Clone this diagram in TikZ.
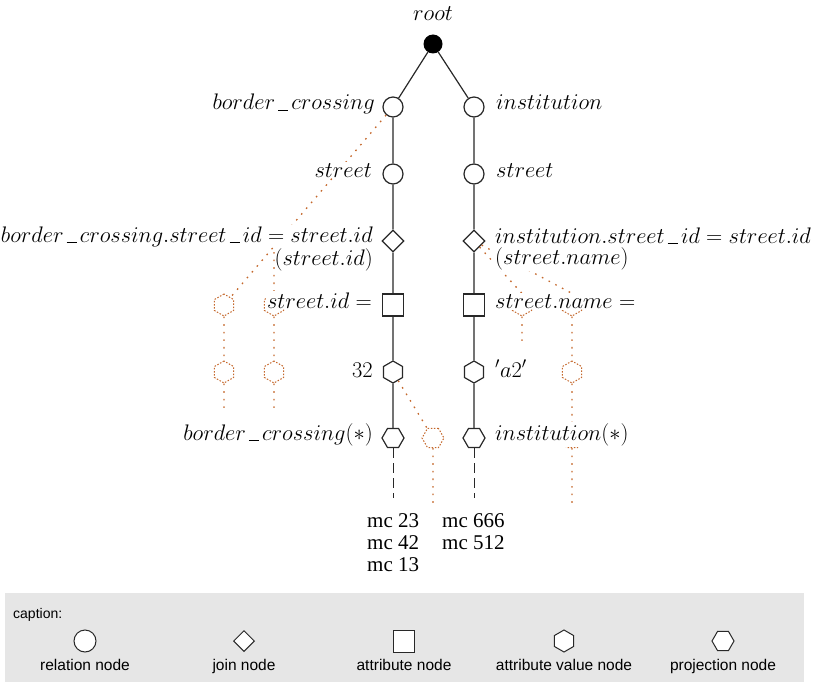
\RequirePackage{fix-cm}
\documentclass[tikz,border=0pt]{standalone}
\usepackage{fontspec}
\newfontfamily\capfont{Liberation Sans}
\newfontfamily\mcfont{Liberation Serif}
\usetikzlibrary{shapes.geometric}
\definecolor{orng}{RGB}{196,104,44}
\definecolor{capgray}{RGB}{230,230,230}
\definecolor{lnc}{RGB}{40,40,40}
\newcommand{\usc}{\mbox{\kern0.13em\rule[-0.03em]{0.46em}{0.045em}\kern0.13em}}
\begin{document}
\begin{tikzpicture}[x=1pt,y=-1pt,
  lab/.style={font=\fontsize{22.5}{26}\selectfont, inner sep=1pt},
  wlab/.style={lab, fill=white},
  mc/.style={font=\mcfont\fontsize{21}{22}\selectfont, align=left, inner sep=0pt},
  captxt/.style={font=\capfont\fontsize{15.5}{18}\selectfont, inner sep=0pt},
  rootn/.style={circle, fill=black, minimum size=19pt, inner sep=0pt},
  rel/.style={circle, draw=lnc, line width=1.2pt, minimum size=20pt, inner sep=0pt, fill=white},
  joinn/.style={diamond, draw=lnc, line width=1.2pt, minimum width=22pt, minimum height=22pt, inner sep=0pt, fill=white},
  attrn/.style={rectangle, draw=lnc, line width=1.2pt, minimum width=21pt, minimum height=22pt, inner sep=0pt, fill=white},
  avn/.style={regular polygon, regular polygon sides=6, shape border rotate=30, draw=lnc, line width=1.2pt, minimum size=22pt, inner sep=0pt, fill=white},
  pjn/.style={regular polygon, regular polygon sides=6, draw=lnc, line width=1.2pt, minimum size=22pt, inner sep=0pt, fill=white},
  edge/.style={draw=lnc, line width=1.2pt},
  dedge/.style={draw=lnc, line width=1pt, dash pattern=on 10pt off 5pt},
  odot/.style={draw=orng, line width=1.3pt, dash pattern=on 1.6pt off 6pt},
  ohexav/.style={regular polygon, regular polygon sides=6, shape border rotate=30, draw=orng, line width=1pt, dash pattern=on 1.5pt off 1.6pt, minimum size=22pt, inner sep=0pt},
  ohexpj/.style={regular polygon, regular polygon sides=6, draw=orng, line width=1pt, dash pattern=on 1.5pt off 1.6pt, minimum size=22pt, inner sep=0pt}
]
\useasboundingbox (0,0) rectangle (816,682);

% caption background
\fill[capgray] (5,593) rectangle (804,682);

% tree nodes
\node[rootn] (root) at (433,44) {};
\node[rel] (bc) at (393,107) {};
\node[rel] (in) at (474,107) {};
\node[rel] (sL) at (393,174) {};
\node[rel] (sR) at (474,174) {};
\node[joinn] (jL) at (393,241) {};
\node[joinn] (jR) at (474,241) {};
\node[attrn] (aL) at (393,305) {};
\node[attrn] (aR) at (474,305) {};
\node[avn] (vL) at (393,372) {};
\node[avn] (vR) at (474,372) {};
\node[pjn] (pL) at (393,438) {};
\node[pjn] (pR) at (474,438) {};
\coordinate (eL) at (393,498);
\coordinate (eR) at (474,498);

\path[edge] (root) -- (bc) (root) -- (in)
  (bc) -- (sL) (sL) -- (jL) (jL) -- (aL) (aL) -- (vL) (vL) -- (pL)
  (in) -- (sR) (sR) -- (jR) (jR) -- (aR) (aR) -- (vR) (vR) -- (pR);
\path[dedge] (pL) -- (eL) (pR) -- (eR);

% orange projection parts
\node[ohexav] (oA) at (224,305) {};
\node[ohexav] (oB) at (224,372) {};
\node[ohexav] (oC) at (274,305) {};
\node[ohexav] (oD) at (274,372) {};
\node[ohexpj] (oP) at (433,438) {};
\node[ohexav] (oE) at (522,305) {};
\node[ohexav] (oF) at (572,305) {};
\node[ohexav] (oG) at (572,372) {};
\node[ohexpj] (oH) at (572,438) {};
\coordinate (fB) at (224,412);
\coordinate (fD) at (274,412);
\coordinate (fC) at (274,252);
\coordinate (fP) at (433,505);
\coordinate (fE) at (522,346);
\coordinate (fH) at (572,505);

\path[odot] (bc) -- (oA) (oA) -- (oB) (oB) -- (fB)
  (fC) -- (oC) (oC) -- (oD) (oD) -- (fD)
  (vL) -- (oP) (oP) -- (fP)
  (jR) -- (oE.north) (oE) -- (fE)
  (jR) -- (oF.north) (oF) -- (oG) (oG) -- (oH) (oH) -- (fH);

% labels
\node[wlab, anchor=base] (lroot) at (433,21) {$root$};
\node[wlab, anchor=base east] (lbc) at (376,110) {$border\usc crossing$};
\node[wlab, anchor=base west] (lin) at (495,110) {$institution$};
\node[wlab, anchor=base east] (lsL) at (373,177) {$street$};
\node[wlab, anchor=base west] (lsR) at (495,177) {$street$};
\node[wlab, anchor=base east] (ljL1) at (374,242) {$border\usc crossing.street\usc id=street.id$};
\node[lab, anchor=base east] (ljL2) at (374,265) {$(street.id)$};
\node[wlab, anchor=base west] (ljR1) at (494,243) {$institution.street\usc id=street.id$};
\node[wlab, anchor=base west] (ljR2) at (494,264) {$(street.name)$};
\node[wlab, anchor=base east] (laL) at (373,308) {$street.id=$};
\node[wlab, anchor=base west] (laR) at (494,308) {$street.name=$};
\node[wlab, anchor=base east] (lvL) at (374,377) {$32$};
\node[wlab, anchor=base west] (lvR) at (494,377) {$'a2'$};
\node[wlab, anchor=base east] (lpL) at (374,440) {$border\usc crossing(*)$};
\node[wlab, anchor=base west] (lpR) at (494,440) {$institution(*)$};

% result sets
\node[mc, anchor=north west] (mcL) at (367,513) {mc 23\\mc 42\\mc 13};
\node[mc, anchor=north west] (mcR) at (442,513) {mc 666\\mc 512};

% caption
\node[captxt, font=\capfont\fontsize{14}{16}\selectfont, anchor=base west] (capt) at (13,618) {caption:};
\node[rel, line width=1pt, minimum size=22pt] (kRel) at (85,641) {};
\node[joinn, line width=1pt, minimum width=21pt, minimum height=21pt] (kJoin) at (244,641) {};
\node[attrn, line width=1pt, minimum width=21pt, minimum height=22pt] (kAttr) at (404,641) {};
\node[avn, line width=1pt] (kAv) at (564,641) {};
\node[pjn, line width=1pt] (kPj) at (723,641) {};
\node[captxt, anchor=base] (tRel) at (85,670) {relation node};
\node[captxt, anchor=base] (tJoin) at (244,670) {join node};
\node[captxt, anchor=base] (tAttr) at (404,670) {attribute node};
\node[captxt, anchor=base] (tAv) at (564,670) {attribute value node};
\node[captxt, anchor=base] (tPj) at (723,670) {projection node};
\end{tikzpicture}
\end{document}
